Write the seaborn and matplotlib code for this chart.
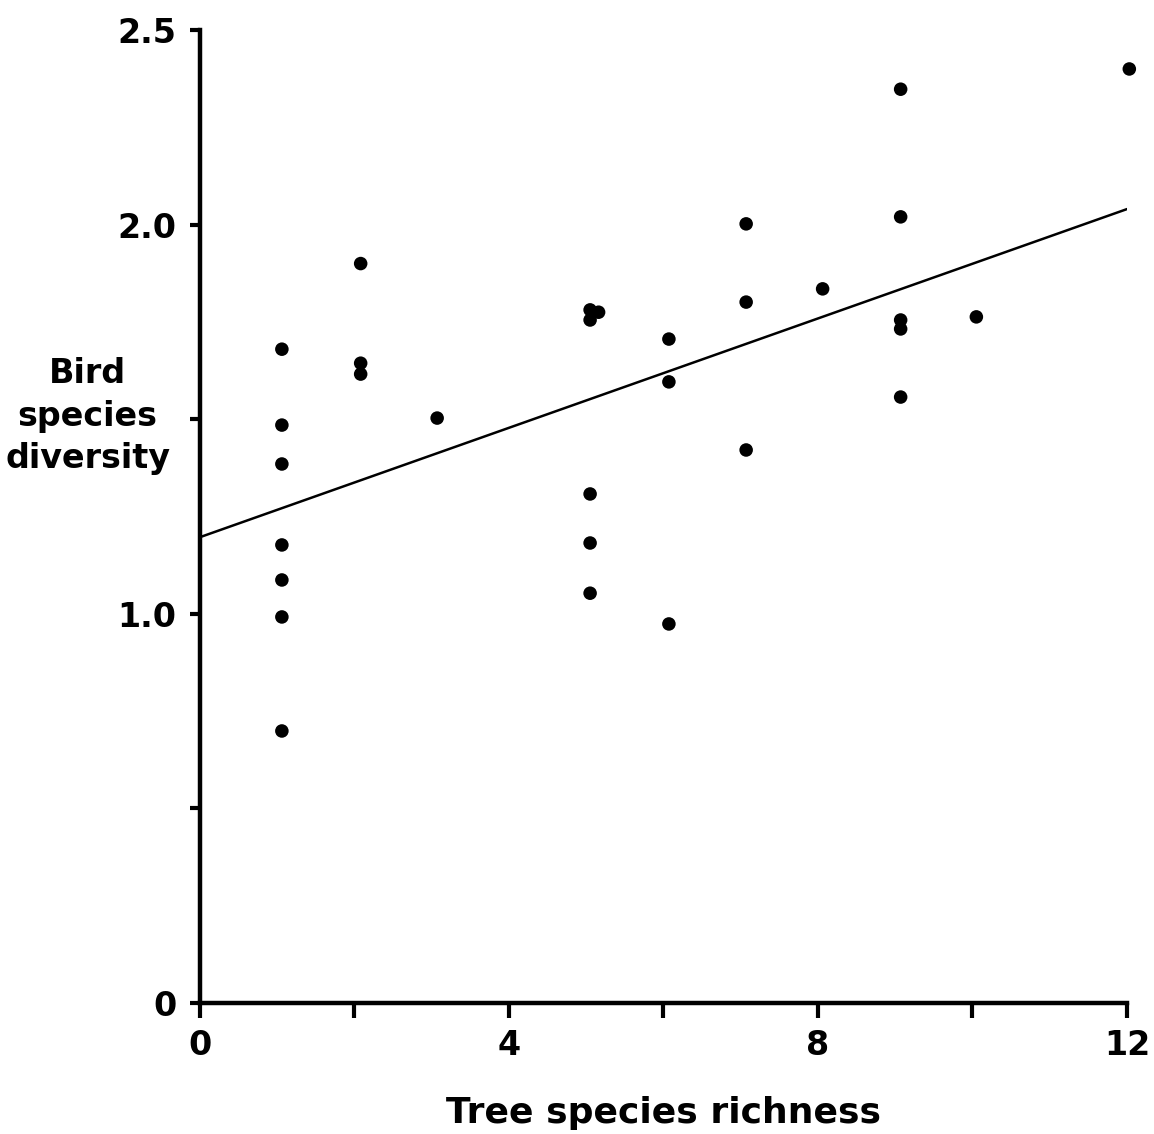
"""Bird species diversity vs tree species richness, with fitted line."""
import matplotlib
matplotlib.use("Agg")
import matplotlib.pyplot as plt
import pandas as pd
import seaborn as sns

tree_richness = [1.06, 1.06, 1.06, 1.06, 1.06, 1.06, 1.06,
                 2.08, 2.08, 2.08,
                 3.07,
                 5.05, 5.16, 5.05, 5.05, 5.05, 5.05,
                 6.07, 6.07, 6.07,
                 7.07, 7.07, 7.07,
                 8.06,
                 9.07, 9.07, 9.07, 9.07, 9.07,
                 10.05,
                 12.03]
bird_diversity = [1.68, 1.485, 1.385, 1.177, 1.087, 0.992, 0.699,
                  1.90, 1.644, 1.616,
                  1.503,
                  1.781, 1.775, 1.755, 1.308, 1.182, 1.053,
                  1.706, 1.596, 0.974,
                  2.002, 1.801, 1.421,
                  1.835,
                  2.348, 2.020, 1.755, 1.732, 1.557,
                  1.763,
                  2.400]

# regression line end points
fit_x = [0, 12]
fit_y = [1.197, 2.040]

x_ticks = [0, 2, 4, 6, 8, 10, 12]
x_labels = ["0", "", "4", "", "8", "", "12"]
y_ticks = [0, 0.5, 1.0, 1.5, 2.0, 2.5]
y_labels = ["0", "", "1.0", "", "2.0", "2.5"]

pts = pd.DataFrame({"x": tree_richness, "y": bird_diversity})
line = pd.DataFrame({"x": fit_x, "y": fit_y})

sns.set_style("ticks")
plt.rcParams["font.family"] = ["DejaVu Sans"]
plt.rcParams["text.color"] = "black"
plt.rcParams["xtick.color"] = "black"
plt.rcParams["ytick.color"] = "black"
plt.rcParams["axes.labelcolor"] = "black"

fig = plt.figure(figsize=(11.54, 11.34), dpi=100)
ax = fig.add_axes([0.1733, 0.1155, 0.8033, 0.858])

sns.lineplot(data=line, x="x", y="y", color="black", linewidth=1.8, ax=ax)
sns.scatterplot(data=pts, x="x", y="y", color="black", s=95, edgecolor="none",
                clip_on=False, zorder=3, ax=ax)

ax.set_xlim(0, 12)
ax.set_ylim(0, 2.5)
ax.set_xticks(x_ticks)
ax.set_xticklabels(x_labels, fontsize=24, fontweight="bold")
ax.set_yticks(y_ticks)
ax.set_yticklabels(y_labels, fontsize=24, fontweight="bold")
ax.tick_params(axis="x", length=11, width=3, pad=8)
ax.tick_params(axis="y", length=7, width=3, pad=10)
for side in ("left", "bottom"):
    ax.spines[side].set_linewidth(3.2)
    ax.spines[side].set_color("black")
sns.despine(ax=ax)

ax.set_xlabel("Tree species richness", fontsize=26, fontweight="bold", labelpad=24)
ax.set_ylabel("")
fig.text(0.076, 0.633, "Bird\nspecies\ndiversity", ha="center", va="center",
         fontsize=24, fontweight="bold", linespacing=1.36)

fig.savefig("out.png", dpi=100)
plt.close(fig)
